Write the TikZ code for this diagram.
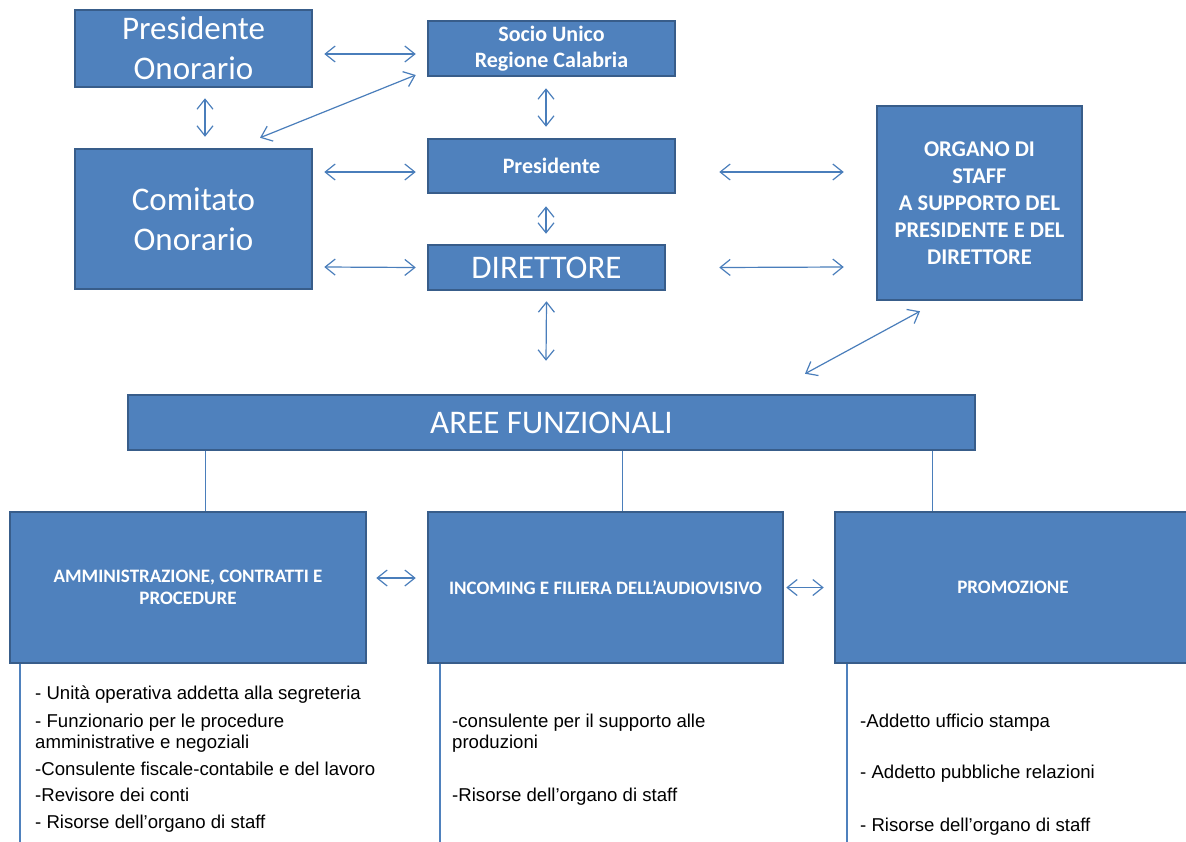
\documentclass[tikz,border=0pt]{standalone}
\usepackage{fontspec}
\setmainfont{Carlito}
\newfontfamily\arialf{Liberation Sans}
\usetikzlibrary{arrows.meta}
\definecolor{boxfill}{HTML}{4F81BD}
\definecolor{boxline}{HTML}{385D8A}
\definecolor{arrowc}{HTML}{4A7EBB}
\begin{document}
\begin{tikzpicture}[x=1pt,y=-1pt,
 box/.style={draw=boxline, line width=2.5pt, fill=boxfill, text=white, align=center, inner sep=2pt},
 big/.style={font=\fontsize{33}{40}\selectfont},
 boldt/.style={font=\fontsize{22}{26}\selectfont\bfseries},
 staff/.style={font=\fontsize{22.5}{27}\selectfont\bfseries},
 smallt/.style={font=\fontsize{19}{22}\selectfont\bfseries},
 arr/.style={draw=arrowc, line width=1.2pt, {Straight Barb[length=10pt,width=16pt]}-{Straight Barb[length=10pt,width=16pt]}},
 link/.style={draw=arrowc, line width=1pt},
 vline/.style={draw=boxfill, line width=1.5pt},
 item/.style={anchor=base west, inner sep=0, font=\arialf\fontsize{18.6}{22}\selectfont, text=black}
]
\useasboundingbox[fill=white] (0,0) rectangle (1186,841);

% top boxes
\node[box, big, minimum width=237pt, minimum height=77pt] (po) at (193.5,48.5) {\rule{0pt}{0pt}Presidente\\Onorario};
\node[box, boldt, minimum width=247pt, minimum height=55pt] (su) at (551.5,48.5) {Socio Unico\\Regione Calabria};
\node[box, big, minimum width=237pt, minimum height=140pt] (co) at (193.5,219) {Comitato\\Onorario};
\node[box, boldt, minimum width=247pt, minimum height=54pt] (pr) at (551.5,166) {Presidente};
\node[box, big, minimum width=237pt, minimum height=45pt] (di) at (546.5,267.5) {DIRETTORE};
\node[box, staff, minimum width=205pt, minimum height=194pt] (os) at (979.5,203) {ORGANO DI\\STAFF\\A SUPPORTO DEL\\PRESIDENTE E DEL\\DIRETTORE};
\node[box, big, minimum width=847pt, minimum height=55pt] (af) at (551.5,422.5) {AREE FUNZIONALI};

% bottom boxes
\node[box, smallt, minimum width=356pt, minimum height=151pt] (b1) at (188,587.5) {AMMINISTRAZIONE, CONTRATTI E\\PROCEDURE};
\node[box, smallt, minimum width=355pt, minimum height=151pt] (b2) at (605.5,587.5) {INCOMING E FILIERA DELL’AUDIOVISIVO};
\node[box, smallt, minimum width=356pt, minimum height=151pt] (b3) at (1013,587.5) {PROMOZIONE};

% arrows
\draw[arr] ([xshift=11pt,yshift=-5.5pt]po.east) -- ([xshift=-11pt,yshift=-5.5pt]su.west);
\draw[arr] ([xshift=11.5pt,yshift=-10pt]po.south) -- ([xshift=11.5pt,yshift=11pt]co.north);
\draw[arr] ([xshift=66.5pt,yshift=10pt]co.north) -- ([xshift=-11pt,yshift=-26.5pt]su.west);
\draw[arr] ([xshift=-5.5pt,yshift=-11pt]su.south) -- ([xshift=-5.5pt,yshift=11pt]pr.north);
\draw[arr] ([xshift=11pt,yshift=47pt]co.east) -- ([xshift=-11pt,yshift=-6pt]pr.west);
\draw[arr] ([xshift=-5.5pt,yshift=-12pt]pr.south) -- ([xshift=-0.5pt,yshift=10pt]di.north);
\draw[arr] ([xshift=11pt,yshift=-48pt]co.east) -- ([xshift=-11pt]di.west);
\draw[arr] ([xshift=43pt,yshift=-6pt]pr.east) -- ([xshift=-32pt,yshift=31pt]os.west);
\draw[arr] ([xshift=53pt]di.east) -- ([xshift=-32pt,yshift=-64pt]os.west);
\draw[arr] ([yshift=-10pt]di.south) -- ([xshift=-5.5pt,yshift=33pt]af.north);
\draw[arr] ([xshift=-59.5pt,yshift=-10pt]os.south) -- ([xshift=253.5pt,yshift=20pt]af.north);
\draw[arr] ([xshift=9pt,yshift=9.5pt]b1.east) -- ([xshift=-11pt,yshift=9.5pt]b2.west);
\draw[arr] ([xshift=2pt]b2.east) -- ([xshift=-10pt]b3.west);

% links from AREE FUNZIONALI
\draw[link] ([xshift=17pt]b1.north) -- ([xshift=17pt]b1.north |- af.south);
\draw[link] ([xshift=16.5pt]b2.north) -- ([xshift=16.5pt]b2.north |- af.south);
\draw[link] ([xshift=-81pt]b3.north) -- ([xshift=-81pt]b3.north |- af.south);

% vertical lines under boxes
\draw[vline] ([xshift=-168pt]b1.south) -- ++(0,180);
\draw[vline] ([xshift=-165.5pt]b2.south) -- ++(0,180);
\draw[vline] ([xshift=-166pt]b3.south) -- ++(0,180);

% lists
\node[item] (a1) at (35,699) {- Unità operativa addetta alla segreteria};
\node[item] (a2) at (35,727) {- Funzionario per le procedure};
\node[item] (a3) at (35,748) {amministrative e negoziali};
\node[item] (a4) at (35,775) {-Consulente fiscale-contabile e del lavoro};
\node[item] (a5) at (35,801) {-Revisore dei conti};
\node[item] (a6) at (35,828) {- Risorse dell’organo di staff};

\node[item] (c1) at (452,727) {-consulente per il supporto alle};
\node[item] (c2) at (452,748) {produzioni};
\node[item] (c3) at (452,801) {-Risorse dell’organo di staff};

\node[item] (p1) at (860,727) {-Addetto ufficio stampa};
\node[item] (p2) at (860,778) {- Addetto pubbliche relazioni};
\node[item] (p3) at (860,831) {- Risorse dell’organo di staff};
\end{tikzpicture}
\end{document}
